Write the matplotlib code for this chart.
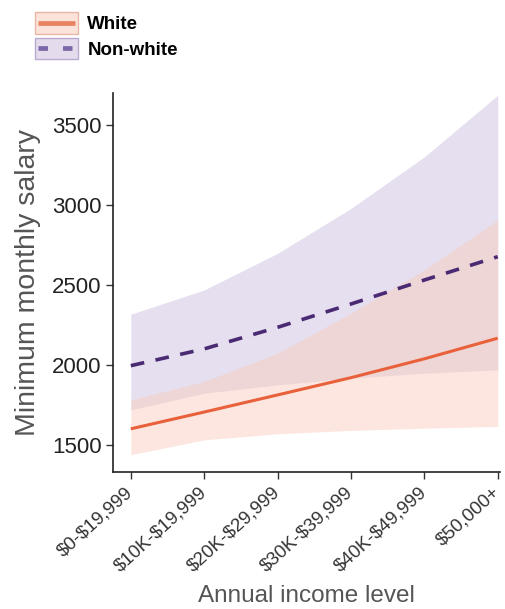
import matplotlib
matplotlib.use("Agg")
import matplotlib.pyplot as plt
from matplotlib.patches import Rectangle
from matplotlib.lines import Line2D
from matplotlib.legend_handler import HandlerBase

categories = ["$0-$19,999", "$10K-$19,999", "$20K-$29,999", "$30K-$39,999", "$40K-$49,999", "$50,000+"]
white_mean = [1600, 1705, 1812, 1920, 2038, 2167]
white_lower = [1438, 1531, 1569, 1590, 1604, 1615]
white_upper = [1781, 1896, 2073, 2323, 2594, 2906]
nonwhite_mean = [1995, 2100, 2235, 2381, 2531, 2677]
nonwhite_lower = [1719, 1823, 1875, 1917, 1948, 1969]
nonwhite_upper = [2317, 2469, 2698, 2979, 3302, 3687]
yticks = [1500, 2000, 2500, 3000, 3500]

plt.rcParams['font.family'] = ['Liberation Sans', 'DejaVu Sans']


class BandHandler(HandlerBase):
    def __init__(self, face, edge, lcolor, dashes=None):
        super().__init__()
        self.face, self.edge, self.lcolor, self.dashes = face, edge, lcolor, dashes

    def create_artists(self, legend, orig_handle, xdescent, ydescent, width, height, fontsize, trans):
        r = Rectangle((-xdescent, -ydescent), width, height, facecolor=self.face,
                      edgecolor=self.edge, linewidth=1.0, transform=trans)
        ym = -ydescent + height / 2
        inset = width * 0.08
        kw = dict(color=self.lcolor, linewidth=3.4, transform=trans, solid_capstyle="butt")
        ln = Line2D([-xdescent + inset, -xdescent + width - inset], [ym, ym], **kw)
        if self.dashes:
            ln.set_dashes(self.dashes)
            ln.set_dash_capstyle("butt")
        return [r, ln]


fig = plt.figure(figsize=(5.06, 6.09), dpi=100)
ax = fig.add_axes([0.223, 0.225, 0.765, 0.622])

x = list(range(len(categories)))
pink_fill = "#f9c9b8"
purple_fill = "#c6b9dc"
ax.fill_between(x, nonwhite_lower, nonwhite_upper, color=purple_fill, alpha=0.45, linewidth=0)
ax.fill_between(x, white_lower, white_upper, color=pink_fill, alpha=0.45, linewidth=0)
ax.plot(x, white_mean, color="#e8613a", linewidth=2.2, solid_capstyle="butt")
ax.plot(x, nonwhite_mean, color="#4a2a72", linewidth=2.6, dashes=(3.8, 3.2))

ax.set_xlim(-0.245, 5.03)
ax.set_ylim(1330, 3700)
ax.set_yticks(yticks)
ax.set_xticks(x)
ax.set_xticklabels([c.replace("$", r"\$") for c in categories], rotation=42, ha="right", va="center",
                   rotation_mode="anchor", fontsize=13.5, color="#333333")
ax.tick_params(axis="y", labelsize=16, labelcolor="#222222", length=5, width=1, color="#333333", pad=3)
ax.tick_params(axis="x", length=5, width=1, color="#333333", pad=8)
for s in ["top", "right"]:
    ax.spines[s].set_visible(False)
for s in ["left", "bottom"]:
    ax.spines[s].set_linewidth(1.2)
    ax.spines[s].set_color("#222222")

ax.set_ylabel("Minimum monthly salary", fontsize=20.5, color="#555555", labelpad=8)
ax.set_xlabel("Annual income level", fontsize=17.5, color="#555555", labelpad=7)

hw = Rectangle((0, 0), 1, 1)
hn = Rectangle((0, 0), 1, 1)
leg = fig.legend([hw, hn], ["White", "Non-white"],
                 handler_map={hw: BandHandler("#fbe3da", "#e9b6a6", "#e8835f"),
                              hn: BandHandler("#e4dcec", "#b9abcf", "#7a66a8", dashes=(2.0, 3.2))},
                 loc="upper left", bbox_to_anchor=(0.045, 1.0), frameon=False,
                 prop={"weight": "bold", "size": 13.5}, handlelength=2.3, handleheight=1.4,
                 handletextpad=0.5, labelspacing=0.2, borderaxespad=0.25)

fig.savefig("out.png", dpi=100)
